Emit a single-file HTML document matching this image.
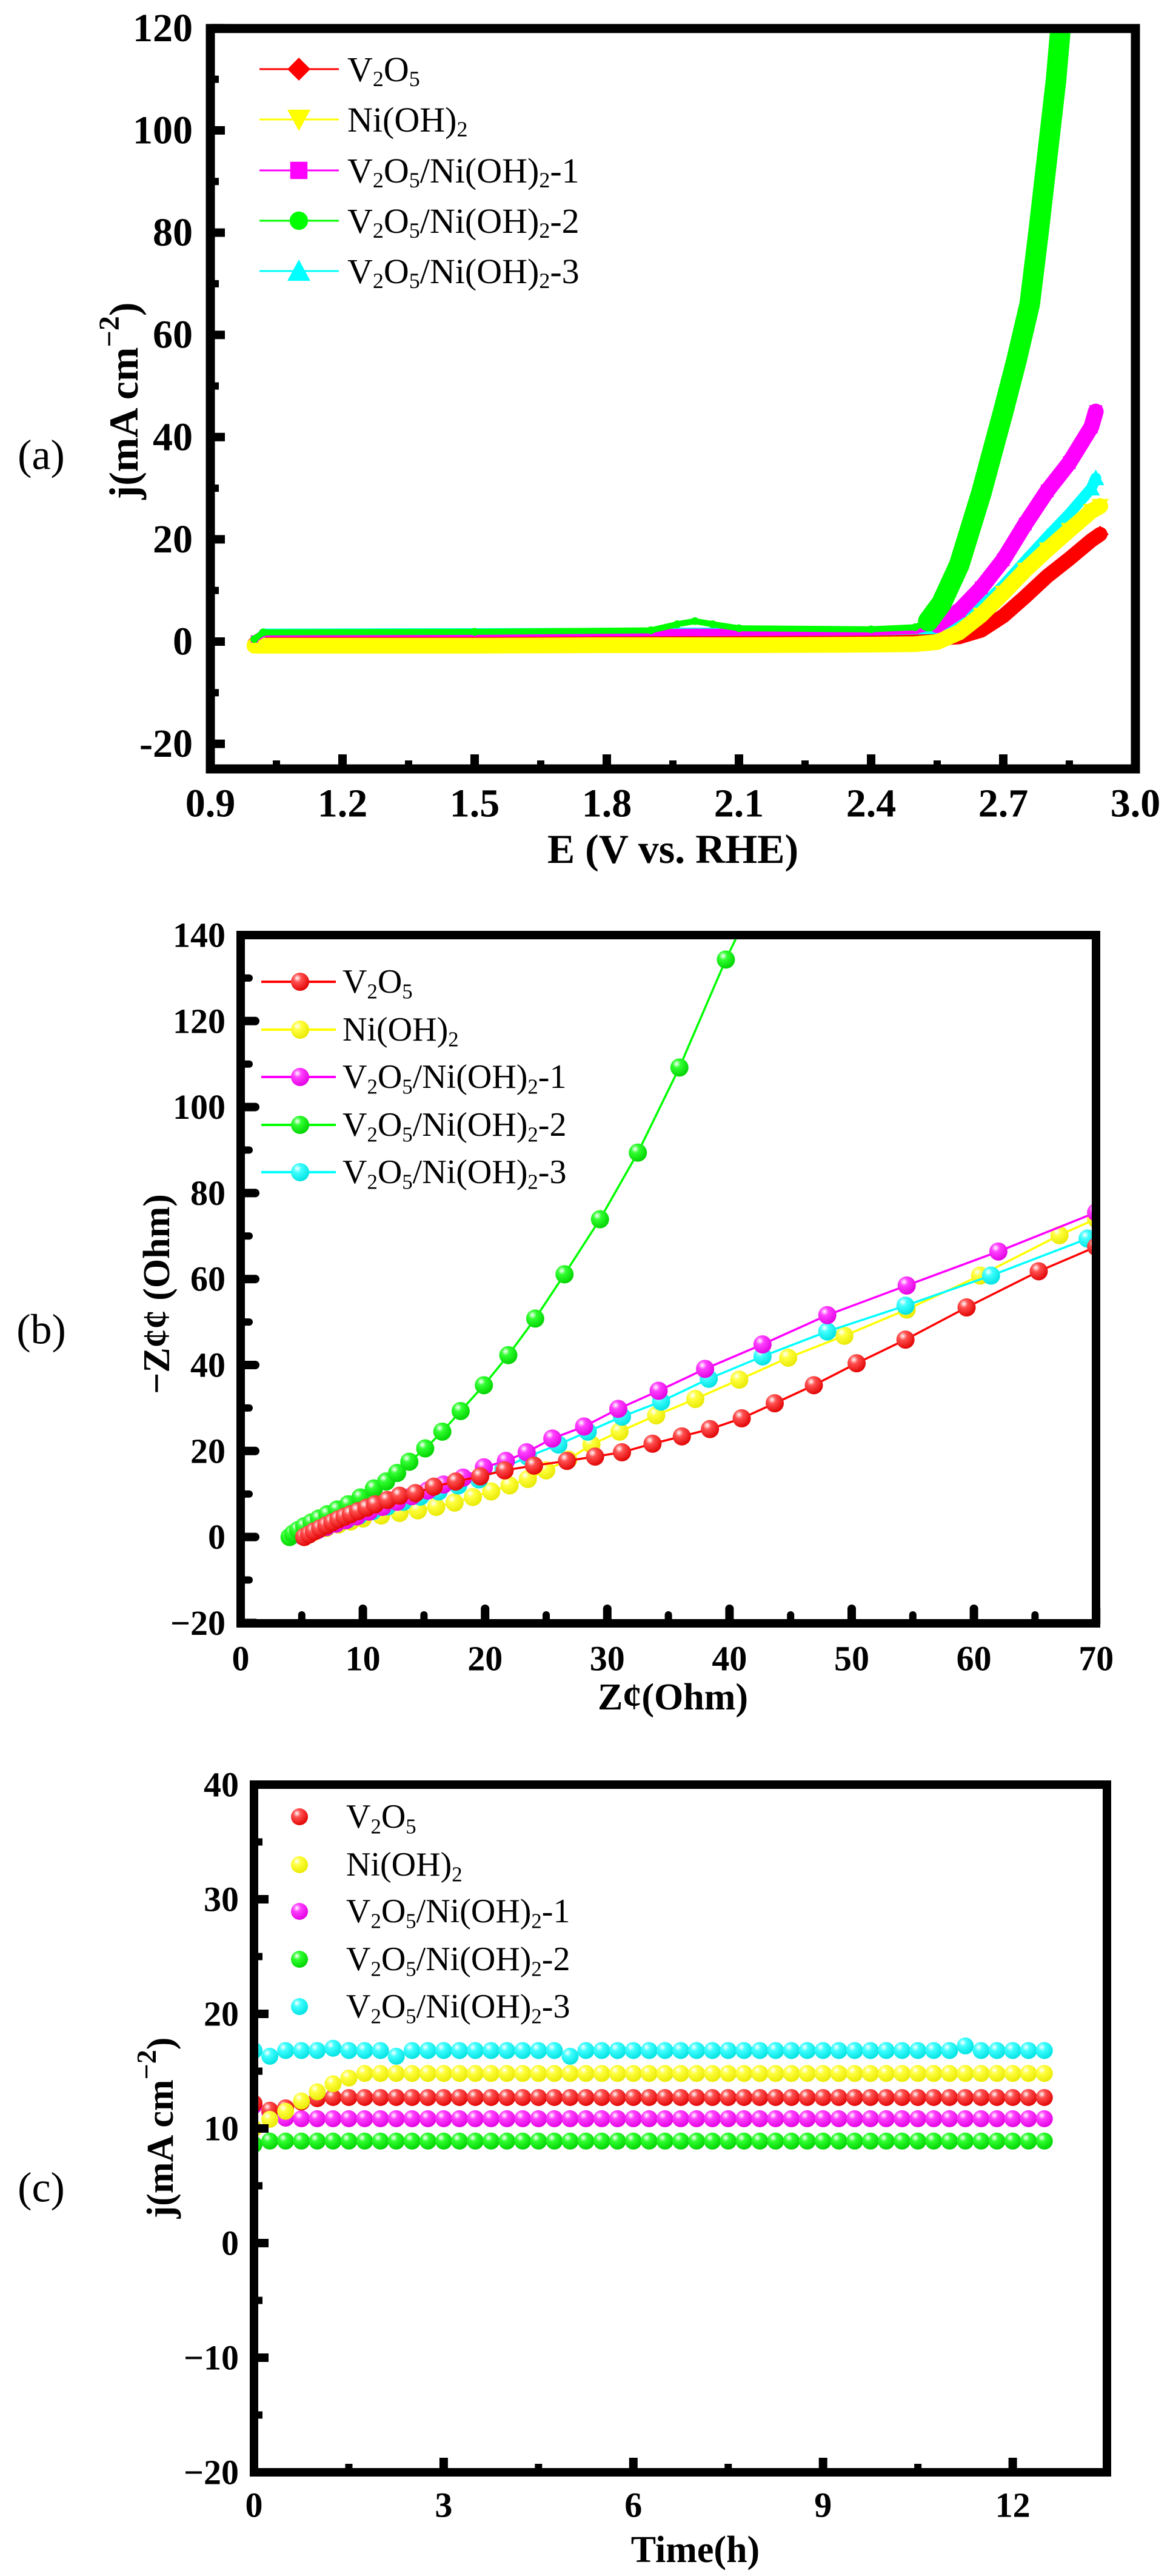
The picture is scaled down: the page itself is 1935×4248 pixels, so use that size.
<!DOCTYPE html>
<html><head><meta charset="utf-8"><style>
html,body{margin:0;padding:0;background:#fff;}
svg{display:block;}
text{font-family:"Liberation Serif",serif;}
</style></head><body>
<svg id="fig" width="1935" height="4248" viewBox="0 0 1935 4248" xmlns="http://www.w3.org/2000/svg">
<defs>
<radialGradient id="gr-red" cx="0.35" cy="0.3" r="0.75"><stop offset="0" stop-color="#fff"/><stop offset="0.3" stop-color="#ff5050"/><stop offset="1" stop-color="#e00000"/></radialGradient>
<radialGradient id="gr-yellow" cx="0.35" cy="0.3" r="0.75"><stop offset="0" stop-color="#fff"/><stop offset="0.3" stop-color="#ffff40"/><stop offset="1" stop-color="#e8e800"/></radialGradient>
<radialGradient id="gr-magenta" cx="0.35" cy="0.3" r="0.75"><stop offset="0" stop-color="#fff"/><stop offset="0.3" stop-color="#ff40ff"/><stop offset="1" stop-color="#e000e0"/></radialGradient>
<radialGradient id="gr-green" cx="0.35" cy="0.3" r="0.75"><stop offset="0" stop-color="#fff"/><stop offset="0.3" stop-color="#30ff30"/><stop offset="1" stop-color="#00d000"/></radialGradient>
<radialGradient id="gr-cyan" cx="0.35" cy="0.3" r="0.75"><stop offset="0" stop-color="#fff"/><stop offset="0.3" stop-color="#40ffff"/><stop offset="1" stop-color="#00e0e0"/></radialGradient>
<clipPath id="clipA"><rect x="347" y="47" width="1526" height="1221"/></clipPath>
<clipPath id="clipB"><rect x="397" y="1542" width="1411" height="1135"/></clipPath>
<clipPath id="clipC"><rect x="419" y="2943" width="1407" height="1134"/></clipPath>
</defs>
</svg>
<script>
// ---------- Panel (a) LSV data ----------
const lsvRedE = [1.0,1.02,1.2,1.5,1.8,2.1,2.4,2.55,2.6,2.65,2.7,2.75,2.8,2.85,2.9,2.92];
const lsvRedJ = [-0.5,0.6,0.6,0.6,0.5,0.5,0.6,0.6,0.9,2.2,5,8.8,12.8,16.2,19.8,21];
const lsvYellowE = [1.0,1.02,1.2,1.5,1.8,2.1,2.4,2.5,2.55,2.6,2.65,2.7,2.75,2.8,2.85,2.9,2.92];
const lsvYellowJ = [-0.8,-0.8,-0.8,-0.8,-0.7,-0.7,-0.6,-0.5,-0.1,1.8,5.2,9.5,14,18,21.8,25.5,26.5];
const lsvMagentaE = [1.0,1.02,1.5,2.0,2.4,2.5,2.55,2.6,2.65,2.7,2.75,2.8,2.85,2.9,2.91];
const lsvMagentaJ = [0.5,1.6,1.6,1.8,1.9,2.2,3.2,6,10.5,16,23,29.5,35,42,45];
const lsvGreenE = [1.0,1.02,1.5,1.9,1.96,2.0,2.04,2.1,2.4,2.5,2.53,2.56,2.6,2.65,2.7,2.73,2.76,2.78,2.8,2.82,2.83];
const lsvGreenJ = [0.5,1.8,1.9,2.2,3.4,4,3.4,2.6,2.4,2.8,4,7.5,15,29,45,55,66,80,95,110,120];
const lsvCyanE = [1.0,1.02,1.5,2.0,2.4,2.55,2.6,2.65,2.7,2.75,2.8,2.85,2.9,2.91];
const lsvCyanJ = [-0.3,1.7,1.8,1.9,2,2.3,3.3,6.8,11,15.8,20.5,25,30,32];

// ---------- Panel (b) Nyquist data ----------
const nyRedX = [5.2,5.6,6,6.5,7,7.5,8,8.5,9,9.6,10.3,11,12,13,14.3,15.8,17.6,19.6,21.6,24,26.7,29,31.2,33.7,36.1,38.4,41,43.7,46.9,50.4,54.4,59.4,65.3,70];
const nyRedY = [0,0.6,1.3,2,2.7,3.4,4.1,4.7,5.3,6,6.8,7.6,8.6,9.6,10.2,11.7,12.9,14.1,15.5,16.6,17.7,18.7,19.7,21.7,23.4,25.1,27.6,31.1,35.3,40.4,45.9,53.4,61.8,67.5];
const nyYellowX = [5.3,6,7,8,9,10,11.5,13,14.5,16,17.5,19,20.5,22,23.5,25,26.8,28.7,31,34,37.2,40.8,44.8,49.4,54.5,60.5,67,70];
const nyYellowY = [0.3,1.2,2.1,2.9,3.6,4.3,5,5.6,6.2,7,8,9.3,10.6,12,13.5,15.5,18,21.5,24.5,28.3,32.1,36.6,41.7,46.8,52.9,60.8,70.2,74];
const nyMagentaX = [5,5.6,6.3,7,7.8,8.6,9.5,10.5,11.6,12.8,14,15.3,16.6,18.2,19.9,21.7,23.4,25.5,28.1,30.9,34.2,38,42.7,48,54.5,62,70];
const nyMagentaY = [0.3,0.9,1.6,2.3,3.1,3.9,4.8,5.9,7,8.2,9.5,10.8,12.2,13.8,16.2,17.7,19.7,22.9,25.7,29.8,34,39.1,44.8,51.6,58.5,66.4,75.5];
const nyGreenX = [4,4.3,4.7,5.2,5.8,6.4,7.1,7.9,8.8,9.8,10.9,11.9,12.8,13.8,15.1,16.5,18,19.9,21.9,24.1,26.5,29.4,32.5,35.9,39.7,41];
const nyGreenY = [0,0.8,1.6,2.5,3.4,4.3,5.3,6.4,7.6,9.2,11.3,12.9,14.9,17.5,20.6,24.5,29.3,35.3,42.3,50.8,61.1,73.9,89.4,109.2,134.3,142];
const nyCyanX = [5,5.6,6.3,7,7.8,8.7,9.7,10.8,12,13.3,14.7,16.2,17.8,19.5,21.5,23.5,26,28.4,31.2,34.4,38.3,42.7,48,54.4,61.4,69.3];
const nyCyanY = [0.3,0.9,1.6,2.3,3.1,4,5,6,7.1,8.2,9.4,10.6,12,13.4,16,18.7,21.5,24.5,28,31.5,36.8,42,47.8,53.8,60.8,69.4];

// ---------- Panel (c) stability data ----------
const stTime = [0,0.25,0.5,0.75,1,1.25,1.5,1.75,2,2.25,2.5,2.75,3,3.25,3.5,3.75,4,4.25,4.5,4.75,5,5.25,5.5,5.75,6,6.25,6.5,6.75,7,7.25,7.5,7.75,8,8.25,8.5,8.75,9,9.25,9.5,9.75,10,10.25,10.5,10.75,11,11.25,11.5,11.75,12,12.25,12.5];
const stRed = [12.2,11.6,11.8,12.3,12.6,12.7,12.7,12.7,12.7,12.7,12.7,12.7,12.7,12.7,12.7,12.7,12.7,12.7,12.7,12.7,12.7,12.7,12.7,12.7,12.7,12.7,12.7,12.7,12.7,12.7,12.7,12.7,12.7,12.7,12.7,12.7,12.7,12.7,12.7,12.7,12.7,12.7,12.7,12.7,12.7,12.7,12.7,12.7,12.7,12.7,12.7];
const stYellow = [10,10.8,11.5,12.4,13.2,13.9,14.4,14.8,14.8,14.8,14.8,14.8,14.8,14.8,14.8,14.8,14.8,14.8,14.8,14.8,14.8,14.8,14.8,14.8,14.8,14.8,14.8,14.8,14.8,14.8,14.8,14.8,14.8,14.8,14.8,14.8,14.8,14.8,14.8,14.8,14.8,14.8,14.8,14.8,14.8,14.8,14.8,14.8,14.8,14.8,14.8];
const stMagenta = [12,11.4,10.9,10.85,10.85,10.85,10.85,10.85,10.85,10.85,10.85,10.85,10.85,10.85,10.85,10.85,10.85,10.85,10.85,10.85,10.85,10.85,10.85,10.85,10.85,10.85,10.85,10.85,10.85,10.85,10.85,10.85,10.85,10.85,10.85,10.85,10.85,10.85,10.85,10.85,10.85,10.85,10.85,10.85,10.85,10.85,10.85,10.85,10.85,10.85,10.85];
const stGreen = [8.6,8.9,8.9,8.9,8.9,8.9,8.9,8.9,8.9,8.9,8.9,8.9,8.9,8.9,8.9,8.9,8.9,8.9,8.9,8.9,8.9,8.9,8.9,8.9,8.9,8.9,8.9,8.9,8.9,8.9,8.9,8.9,8.9,8.9,8.9,8.9,8.9,8.9,8.9,8.9,8.9,8.9,8.9,8.9,8.9,8.9,8.9,8.9,8.9,8.9,8.9];
const stCyan = [16.8,16.3,16.8,16.8,16.8,17,16.8,16.8,16.8,16.3,16.8,16.8,16.8,16.8,16.8,16.8,16.8,16.8,16.8,16.8,16.3,16.8,16.8,16.8,16.8,16.8,16.8,16.8,16.8,16.8,16.8,16.8,16.8,16.8,16.8,16.8,16.8,16.8,16.8,16.8,16.8,16.8,16.8,16.8,16.8,17.2,16.8,16.8,16.8,16.8,16.8];

// tick arrays
const aXTicks = ["0.9","1.2","1.5","1.8","2.1","2.4","2.7","3.0"];
const aYTicks = ["-20","0","20","40","60","80","100","120"];
const bXTicks = ["0","10","20","30","40","50","60","70"];
const bYTicks = ["\u221220","0","20","40","60","80","100","120","140"];
const cXTicks = ["0","3","6","9","12"];
const cYTicks = ["\u221220","\u221210","0","10","20","30","40"];
const seriesNames = ["V2O5","Ni(OH)2","V2O5/Ni(OH)2-1","V2O5/Ni(OH)2-2","V2O5/Ni(OH)2-3"];

const NS="http://www.w3.org/2000/svg";
const svg=document.getElementById('fig');
function mk(tag,attrs,parent){const e=document.createElementNS(NS,tag);for(const k in attrs)e.setAttribute(k,attrs[k]);(parent||svg).appendChild(e);return e;}

const axA={x:v=>347+(v-0.9)/2.1*1526, y:v=>1058-v*8.43};
const axB={x:v=>397+v*20.16, y:v=>1542+(140-v)*7.09};
const axC={x:v=>419+v*104.3, y:v=>2943+(40-v)*18.9};
const cols={red:"#ff0000",yellow:"#ffff00",magenta:"#ff00ff",green:"#00ff00",cyan:"#00ffff"};

function num(s){return parseFloat(s.replace("\u2212","-"));}

function frame(name,x,y,w,h,sw){
  const r=mk('rect',{x:x,y:y,width:w,height:h,fill:'none',stroke:'#000','stroke-width':sw});
  
  
}
function xAxis(prefix,ax,ticks,minorStep,yB,labelY,fs,cap,vmin,vmax){
  const g=mk('g',{});
  
  
  ticks.forEach(t=>{const v=num(t),X=ax.x(v);
    mk('line',{x1:X,y1:yB,x2:X,y2:yB-24,stroke:'#000','stroke-width':14,'stroke-linecap':cap},g);
    const tx=mk('text',{x:X,y:labelY,'font-size':fs,'font-weight':'bold','text-anchor':'middle','dominant-baseline':'central'},g);
    tx.textContent=t;
    
    
  });
  for(let i=0;;i++){const v=num(ticks[0])+minorStep*(2*i+1);if(v>=vmax-1e-6)break;const X=ax.x(v);
    mk('line',{x1:X,y1:yB,x2:X,y2:yB-14,stroke:'#000','stroke-width':12,'stroke-linecap':cap},g);}
}
function yAxis(prefix,ax,ticks,minorStep,xL,labelX,fs,cap,vmax){
  const g=mk('g',{});
  
  
  ticks.forEach(t=>{const v=num(t),Y=ax.y(v);
    mk('line',{x1:xL,y1:Y,x2:xL+24,y2:Y,stroke:'#000','stroke-width':14,'stroke-linecap':cap},g);
    const tx=mk('text',{x:labelX,y:Y,'font-size':fs,'font-weight':'bold','text-anchor':'end','dominant-baseline':'central'},g);
    tx.textContent=t;
    
    
  });
  for(let i=0;;i++){const v=num(ticks[0])+minorStep*(2*i+1);if(v>=vmax-1e-6)break;const Y=ax.y(v);
    mk('line',{x1:xL,y1:Y,x2:xL+14,y2:Y,stroke:'#000','stroke-width':12,'stroke-linecap':cap},g);}
}
function labelText(parent,x,y,name,fs){
  const t=mk('text',{x:x,y:y,'font-size':fs,'dominant-baseline':'central'},parent);
  for(let i=0;i<name.length;i++){const c=name[i];const prev=name[i-1];
    if(/\d/.test(c) && prev && /[A-Za-z)]/.test(prev)){
      const s=mk('tspan',{'font-size':fs*0.62,dy:fs*0.28},t);s.textContent=c;
      const r=mk('tspan',{dy:-fs*0.28},t);r.textContent='\u200b';
    } else {const s=mk('tspan',{},t);s.textContent=c;}
  }
  return t;
}
function marker(parent,shape,x,y,s,color){
  let e;
  if(shape==='diamond')e=mk('polygon',{points:`${x},${y-s} ${x+s},${y} ${x},${y+s} ${x-s},${y}`,fill:color},parent);
  else if(shape==='down')e=mk('polygon',{points:`${x-s},${y-s*0.85} ${x+s},${y-s*0.85} ${x},${y+s}`,fill:color},parent);
  else if(shape==='up')e=mk('polygon',{points:`${x-s},${y+s*0.85} ${x+s},${y+s*0.85} ${x},${y-s}`,fill:color},parent);
  else if(shape==='square')e=mk('rect',{x:x-s*0.75,y:y-s*0.75,width:s*1.5,height:s*1.5,fill:color},parent);
  else if(shape==='circle')e=mk('circle',{cx:x,cy:y,r:s*0.8,fill:color},parent);
  else e=mk('circle',{cx:x,cy:y,r:s,fill:color},parent);
  return e;
}

// ================= Panel (a) =================
(function(){
  const g=mk('g',{'clip-path':'url(#clipA)'});
  
  
  const series=[
    ['red',lsvRedE,lsvRedJ,'diamond'],
    ['cyan',lsvCyanE,lsvCyanJ,'up'],
    ['yellow',lsvYellowE,lsvYellowJ,'down'],
    ['magenta',lsvMagentaE,lsvMagentaJ,'square'],
    ['green',lsvGreenE,lsvGreenJ,'circle']];
  const widths={red:24,cyan:14,yellow:26,magenta:12,green:10};
  const riseW={red:24,cyan:18,yellow:26,magenta:26,green:34};
  series.forEach(([c,E,J,sh])=>{
    const pts=E.map((e,i)=>axA.x(e)+','+axA.y(J[i])).join(' ');
    const pl=mk('polyline',{points:pts,fill:'none',stroke:cols[c],'stroke-width':widths[c],'stroke-linejoin':'round','stroke-linecap':'round'},g);
    
    
    const riseIdx=J.map((j,i)=>i).filter(i=>J[i]>4 || (J[i+1]!==undefined && J[i+1]>4 && E[i]>2.3));
    if(riseIdx.length>1){
      const rp=riseIdx.map(i=>axA.x(E[i])+','+axA.y(J[i])).join(' ');
      const rl=mk('polyline',{points:rp,fill:'none',stroke:cols[c],'stroke-width':riseW[c],'stroke-linejoin':'round','stroke-linecap':'round'},g);
      
      
    }
    E.forEach((e,i)=>{const m=marker(g,sh,axA.x(e),axA.y(J[i]),J[i]>4?14:8,cols[c]);
      
      });
  });
  frame('lsv-plot-frame',347,47,1526,1221,15);
  xAxis('lsv',axA,aXTicks,0.15,1268,1325,66,'butt',0.9,3.0);
  yAxis('lsv',axA,aYTicks,10,347,318,66,'butt',121);
  const leg=mk('g',{});
  
  
  const shapes=['diamond','down','square','circle','up'];const lc=['red','yellow','magenta','green','cyan'];
  const ys=[114,197,281,364,447];
  ys.forEach((y,i)=>{
    const e=mk('g',{},leg);
    
    
    mk('line',{x1:428,y1:y,x2:559,y2:y,stroke:cols[lc[i]],'stroke-width':3},e);
    marker(e,shapes[i],493,y,19,cols[lc[i]]);
    labelText(e,573,y,seriesNames[i],58);
  });
  const xt=mk('text',{x:1110,y:1400,'font-size':68,'font-weight':'bold','text-anchor':'middle','dominant-baseline':'central'});
  xt.textContent='E (V vs. RHE)';
  
  
  const yt=mk('text',{x:0,y:0,'font-size':68,'font-weight':'bold','text-anchor':'middle','dominant-baseline':'central',transform:'translate(204,661) rotate(-90)'});
  yt.innerHTML='j(mA cm<tspan dy="-24" font-size="48">\u22122</tspan><tspan dy="24">)</tspan>';
  
  
  const pl=mk('text',{x:68,y:751,'font-size':70,'text-anchor':'middle','dominant-baseline':'central'});
  pl.textContent='(a)';
  
  
})();

// ================= Panel (b) =================
(function(){
  const g=mk('g',{'clip-path':'url(#clipB)'});
  
  
  const series=[
    ['yellow',nyYellowX,nyYellowY],
    ['cyan',nyCyanX,nyCyanY],
    ['magenta',nyMagentaX,nyMagentaY],
    ['green',nyGreenX,nyGreenY],
    ['red',nyRedX,nyRedY]];
  series.forEach(([c,X,Y])=>{
    const pts=X.map((x,i)=>axB.x(x)+','+axB.y(Y[i])).join(' ');
    const pl=mk('polyline',{points:pts,fill:'none',stroke:cols[c],'stroke-width':3.5},g);
    
    
    X.forEach((x,i)=>{const m=mk('circle',{cx:axB.x(x),cy:axB.y(Y[i]),r:15,fill:'url(#gr-'+c+')'},g);
      
      });
  });
  frame('nyquist-plot-frame',397,1542,1411,1135,14);
  xAxis('nyquist',axB,bXTicks,5,2677,2735,58,'round',0,70);
  yAxis('nyquist',axB,bYTicks,10,397,372,58,'round',140);
  const leg=mk('g',{});
  
  
  const lc=['red','yellow','magenta','green','cyan'];
  [1619,1698,1776,1855,1933].forEach((y,i)=>{
    const e=mk('g',{},leg);
    
    
    mk('line',{x1:431,y1:y,x2:554,y2:y,stroke:cols[lc[i]],'stroke-width':4},e);
    mk('circle',{cx:495,cy:y,r:15,fill:'url(#gr-'+lc[i]+')'},e);
    labelText(e,565,y,seriesNames[i],56);
  });
  const xt=mk('text',{x:1110,y:2799,'font-size':62,'font-weight':'bold','text-anchor':'middle','dominant-baseline':'central'});
  xt.textContent='Z\u00a2(Ohm)';
  
  
  const yt=mk('text',{x:0,y:0,'font-size':62,'font-weight':'bold','text-anchor':'middle','dominant-baseline':'central',transform:'translate(259,2134) rotate(-90)'});
  yt.textContent='\u2212Z\u00a2\u00a2 (Ohm)';
  
  
  const pl=mk('text',{x:68,y:2193,'font-size':70,'text-anchor':'middle','dominant-baseline':'central'});
  pl.textContent='(b)';
  
  
})();

// ================= Panel (c) =================
(function(){
  const g=mk('g',{'clip-path':'url(#clipC)'});
  
  
  const series=[['green',stGreen],['magenta',stMagenta],['red',stRed],['yellow',stYellow],['cyan',stCyan]];
  series.forEach(([c,V])=>{
    stTime.forEach((t,i)=>{const m=mk('circle',{cx:axC.x(t),cy:axC.y(V[i]),r:14,fill:'url(#gr-'+c+')'},g);
      
      });
  });
  frame('stability-plot-frame',419,2943,1407,1134,14);
  xAxis('stability',axC,cXTicks,1.5,4077,4131,58,'butt',0,13.49);
  yAxis('stability',axC,cYTicks,5,419,394,58,'butt',40);
  const leg=mk('g',{});
  
  
  const lc=['red','yellow','magenta','green','cyan'];
  [2996,3075,3152,3231,3309].forEach((y,i)=>{
    const e=mk('g',{},leg);
    
    
    mk('circle',{cx:494,cy:y,r:14,fill:'url(#gr-'+lc[i]+')'},e);
    labelText(e,571,y,seriesNames[i],56);
  });
  const xt=mk('text',{x:1147,y:4205,'font-size':62,'font-weight':'bold','text-anchor':'middle','dominant-baseline':'central'});
  xt.textContent='Time(h)';
  
  
  const yt=mk('text',{x:0,y:0,'font-size':62,'font-weight':'bold','text-anchor':'middle','dominant-baseline':'central',transform:'translate(265,3509) rotate(-90)'});
  yt.innerHTML='j(mA cm<tspan dy="-24" font-size="46">\u22122</tspan><tspan dy="24">)</tspan>';
  
  
  const pl=mk('text',{x:68,y:3608,'font-size':70,'text-anchor':'middle','dominant-baseline':'central'});
  pl.textContent='(c)';
  
  
})();
</script>
</body></html>
